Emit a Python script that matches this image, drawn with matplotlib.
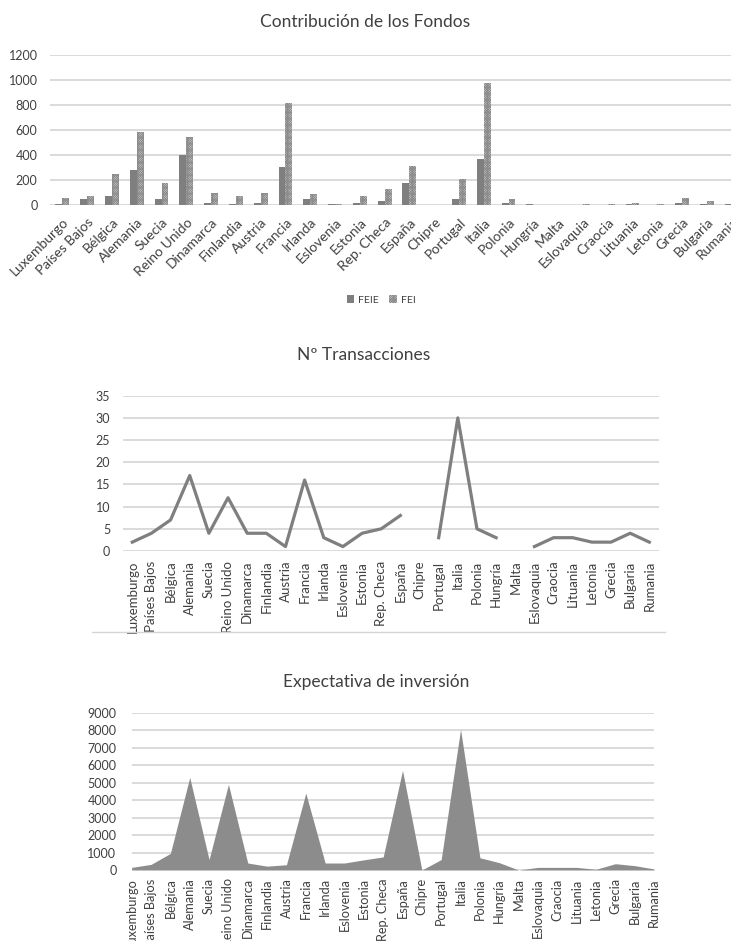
import matplotlib
matplotlib.use("Agg")
import matplotlib.pyplot as plt
from matplotlib.lines import Line2D
from matplotlib.transforms import ScaledTranslation
import numpy as np

paises = ["Luxemburgo", "Países Bajos", "Bélgica", "Alemania", "Suecia", "Reino Unido",
          "Dinamarca", "Finlandia", "Austria", "Francia", "Irlanda", "Eslovenia", "Estonia",
          "Rep. Checa", "España", "Chipre", "Portugal", "Italia", "Polonia", "Hungría",
          "Malta", "Eslovaquia", "Craocia", "Lituania", "Letonia", "Grecia", "Bulgaria",
          "Rumania"]

# Contribución de los Fondos
feie = [5, 45, 75, 280, 50, 400, 20, 8, 20, 305, 50, 5, 20, 30, 180, 0, 45, 365, 20, 5,
        0, 3, 3, 5, 3, 20, 5, 5]
fei = [60, 70, 245, 585, 180, 545, 95, 70, 95, 815, 85, 5, 70, 130, 315, 0, 205, 975, 45, 3,
       0, 5, 5, 15, 5, 60, 30, 15]

# Nº Transacciones (sin dato para Chipre y Malta)
transacciones = [2, 4, 7, 17, 4, 12, 4, 4, 1, 16, 3, 1, 4, 5, 8, np.nan, 3, 30, 5, 3,
                 np.nan, 1, 3, 3, 2, 2, 4, 2]

# Expectativa de inversión
expectativa = [150, 320, 950, 5300, 600, 4900, 400, 220, 300, 4400, 400, 400, 580, 750,
               5700, 0, 600, 8050, 700, 420, 0, 150, 150, 150, 40, 360, 250, 60]

plt.rcParams["font.family"] = ["Lato", "DejaVu Sans"]
plt.rcParams["hatch.linewidth"] = 0.6
txt = "#404040"
grid = "#d4d4d4"
gris = "#7f7f7f"

fig = plt.figure(figsize=(7.31, 9.41), dpi=100)
W, H = 731, 941


def box(x0, x1, ytop, ybot):
    return [x0 / W, (H - ybot) / H, (x1 - x0) / W, (ybot - ytop) / H]


def estilo(ax):
    for s in ax.spines.values():
        s.set_visible(False)
    ax.yaxis.grid(True, color=grid, lw=1.2)
    ax.set_axisbelow(True)
    ax.tick_params(length=0, colors=txt, labelsize=9)
    ax.tick_params(axis="y", pad=9)


x = np.arange(len(paises))

# --- gráfico 1: barras
ax1 = fig.add_axes(box(50, 744, 55, 205))
estilo(ax1)
w = 0.28
ax1.bar(x - w / 2, feie, w, color=gris, label="FEIE")
ax1.bar(x + w / 2, fei, w, facecolor="#d6d6d6", edgecolor="#8c8c8c", hatch="x" * 14, lw=0,
        label="FEI")
ax1.set_xlim(-0.5, len(paises) - 0.5)
ax1.set_ylim(0, 1200)
ax1.set_yticks(range(0, 1201, 200))
ax1.set_xticks(x)
ax1.set_xticklabels(paises, rotation=45, ha="right", va="center", rotation_mode="anchor",
                    fontsize=10)
ax1.tick_params(axis="x", pad=11)
shift = ScaledTranslation(0.045, 0, fig.dpi_scale_trans)
for lab in ax1.get_xticklabels():
    lab.set_transform(lab.get_transform() + shift)
fig.text(365 / W, 1 - 22 / H, "Contribución de los Fondos", ha="center", va="center",
         fontsize=12.5, color=txt)
fig.legend(*ax1.get_legend_handles_labels(), loc="center", bbox_to_anchor=(381 / W, 1 - 300 / H),
           ncol=2, frameon=False, fontsize=7.5, handlelength=0.7, handleheight=0.7,
           handletextpad=0.4, columnspacing=1.0, labelcolor=txt)

# --- gráfico 2: línea
ax2 = fig.add_axes(box(122.7, 658.9, 395.7, 551))
estilo(ax2)
ax2.plot(x, transacciones, color=gris, lw=2.3)
ax2.set_xlim(-0.5, len(paises) - 0.5)
ax2.set_ylim(0, 35)
ax2.set_yticks(range(0, 36, 5))
ax2.set_xticks(x)
ax2.set_xticklabels(paises, rotation=90, fontsize=9.5)
ax2.tick_params(axis="x", pad=7)
fig.text(364 / W, 1 - 355 / H, "Nº Transacciones", ha="center", va="center",
         fontsize=12.5, color=txt)
fig.add_artist(Line2D([92 / W, 665 / W], [1 - 632 / H, 1 - 632 / H], color=grid, lw=1))

# --- gráfico 3: área
ax3 = fig.add_axes(box(131.7, 654, 712.7, 870))
estilo(ax3)
ax3.fill_between(x, expectativa, color="#8c8c8c", lw=0)
ax3.set_xlim(0, len(paises) - 1)
ax3.set_ylim(0, 9000)
ax3.set_yticks(range(0, 9001, 1000))
ax3.set_xticks(x)
ax3.set_xticklabels(paises, rotation=90, fontsize=9.2)
ax3.tick_params(axis="x", pad=6)
ax3.tick_params(axis="y", pad=11)
fig.text(376 / W, 1 - 682 / H, "Expectativa de inversión", ha="center", va="center",
         fontsize=12.5, color=txt)

fig.savefig("out.png", dpi=100)
